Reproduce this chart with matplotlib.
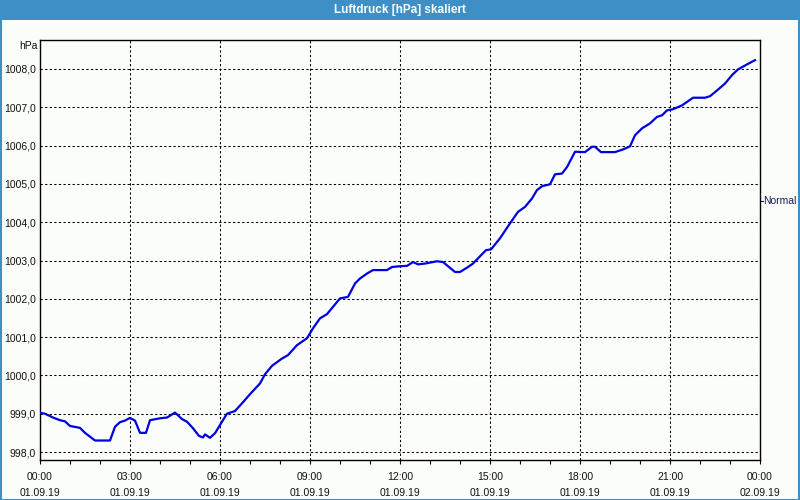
import matplotlib
matplotlib.use("Agg")
import matplotlib.pyplot as plt
from matplotlib.patches import Rectangle
from matplotlib.ticker import MultipleLocator, FixedLocator

title = "Luftdruck [hPa] skaliert"
unit = "hPa"
series_name = "Normal"

# minutes since 01.09.19 00:00
minutes = [0, 10, 26, 40, 50, 60, 80, 90, 110, 140, 150, 160, 170, 180, 190, 200, 212, 220,
           240, 254, 270, 284, 294, 306, 318, 326, 330, 340, 350, 364, 374, 390, 406, 420,
           440, 450, 464, 484, 496, 514, 534, 546, 560, 574, 586, 600, 616, 630, 640, 654,
           666, 694, 704, 720, 734, 746, 756, 770, 794, 806, 830, 840, 856, 866, 880, 892,
           902, 920, 940, 956, 970, 984, 994, 1004, 1020, 1030, 1044, 1054, 1070, 1090,
           1104, 1110, 1122, 1150, 1166, 1180, 1190, 1204, 1220, 1234, 1244, 1254, 1266,
           1284, 1294, 1306, 1330, 1340, 1354, 1370, 1384, 1396, 1414, 1424, 1430]
pressure = [999.02, 999.00, 998.90, 998.83, 998.80, 998.68, 998.63, 998.50, 998.30, 998.30,
            998.66, 998.78, 998.82, 998.89, 998.82, 998.50, 998.50, 998.83, 998.88, 998.90,
            999.03, 998.86, 998.79, 998.62, 998.42, 998.38, 998.46, 998.37, 998.49, 998.79,
            999.00, 999.07, 999.30, 999.51, 999.79, 1000.03, 1000.25, 1000.44, 1000.53,
            1000.79, 1000.97, 1001.23, 1001.49, 1001.60, 1001.79, 1002.01, 1002.05, 1002.40,
            1002.53, 1002.66, 1002.75, 1002.75, 1002.83, 1002.85, 1002.86, 1002.96, 1002.90,
            1002.92, 1002.98, 1002.96, 1002.70, 1002.70, 1002.83, 1002.92, 1003.11, 1003.27,
            1003.29, 1003.58, 1003.97, 1004.27, 1004.40, 1004.62, 1004.84, 1004.94, 1004.99,
            1005.25, 1005.27, 1005.44, 1005.84, 1005.83, 1005.97, 1005.97, 1005.83, 1005.83,
            1005.90, 1005.98, 1006.27, 1006.45, 1006.58, 1006.75, 1006.79, 1006.92, 1006.95,
            1007.05, 1007.14, 1007.25, 1007.25, 1007.29, 1007.44, 1007.62, 1007.84, 1007.99,
            1008.12, 1008.19, 1008.23]

x_tick_hours = [0, 3, 6, 9, 12, 15, 18, 21, 24]
x_tick_labels = ["00:00\n01.09.19", "03:00\n01.09.19", "06:00\n01.09.19", "09:00\n01.09.19",
                 "12:00\n01.09.19", "15:00\n01.09.19", "18:00\n01.09.19", "21:00\n01.09.19",
                 "00:00\n02.09.19"]
y_ticks = [998, 999, 1000, 1001, 1002, 1003, 1004, 1005, 1006, 1007, 1008]
y_tick_labels = ["998,0", "999,0", "1000,0", "1001,0", "1002,0", "1003,0", "1004,0",
                 "1005,0", "1006,0", "1007,0", "1008,0"]

BG = "#fafdfa"
BAR = "#3d8fc6"
FONT = "Liberation Sans"
plt.rcParams["font.family"] = [FONT, "DejaVu Sans"]

fig = plt.figure(figsize=(8, 5), dpi=100, facecolor=BG)
W, H = 800, 500

# title bar
fig.patches.append(Rectangle((0, 1 - 20 / H), 1, 20 / H, transform=fig.transFigure,
                             facecolor=BAR, edgecolor="none", zorder=0))
# outer border
fig.patches.append(Rectangle((0.5 / W, 0.5 / H), 1 - 1.5 / W, 1 - 1.5 / H,
                             transform=fig.transFigure, facecolor="none",
                             edgecolor=BAR, linewidth=1.5, zorder=1))
fig.text(0.5, 1 - 10 / H, title, ha="center", va="center", color="white",
         fontsize=8.5, fontweight="bold")

ax = fig.add_axes([40 / W, 40 / H, 720 / W, 420 / H])
ax.set_facecolor(BG)

hours = [m / 60 for m in minutes]
ax.plot(hours, pressure, color="#0000e0", linewidth=1.6, zorder=3, solid_joinstyle="round")

ax.set_xlim(0, 24)
y_bottom = 998 - 8 / 38.3
y_top = 1008 + 29 / 38.3
ax.set_ylim(y_bottom, y_top)

ax.xaxis.set_major_locator(FixedLocator(x_tick_hours))
ax.set_xticklabels(x_tick_labels)
ax.xaxis.set_minor_locator(MultipleLocator(1))
ax.tick_params(axis="x", which="both", direction="out", length=3, width=0.8,
               color="black", pad=6, labelsize=7.5, labelcolor="#111111")
ax.set_yticks(y_ticks)
ax.set_yticklabels(y_tick_labels)
ax.tick_params(axis="y", which="both", length=0, pad=3, labelsize=7.5, labelcolor="#111111")

for lbl in ax.get_xticklabels():
    lbl.set_linespacing(1.75)

ax.grid(True, which="major", color="black", linestyle=(0, (2.2, 2.2)), linewidth=0.75)

for s in ax.spines.values():
    s.set_color("black")
    s.set_linewidth(1.0)

fig.text(38 / W, 1 - 46 / H, unit, ha="right", va="center", fontsize=7.5, color="#111111")
# series label on the right
fig.text(763 / W, 1 - 201 / H, series_name, ha="left", va="center", fontsize=7.5,
         color="#1a1a5e")
fig.add_artist(plt.Line2D([760.5 / W, 763 / W], [1 - 201 / H, 1 - 201 / H],
                          transform=fig.transFigure, color="#1a1a5e", linewidth=0.8))

fig.savefig("out.png", dpi=100, facecolor=BG)
